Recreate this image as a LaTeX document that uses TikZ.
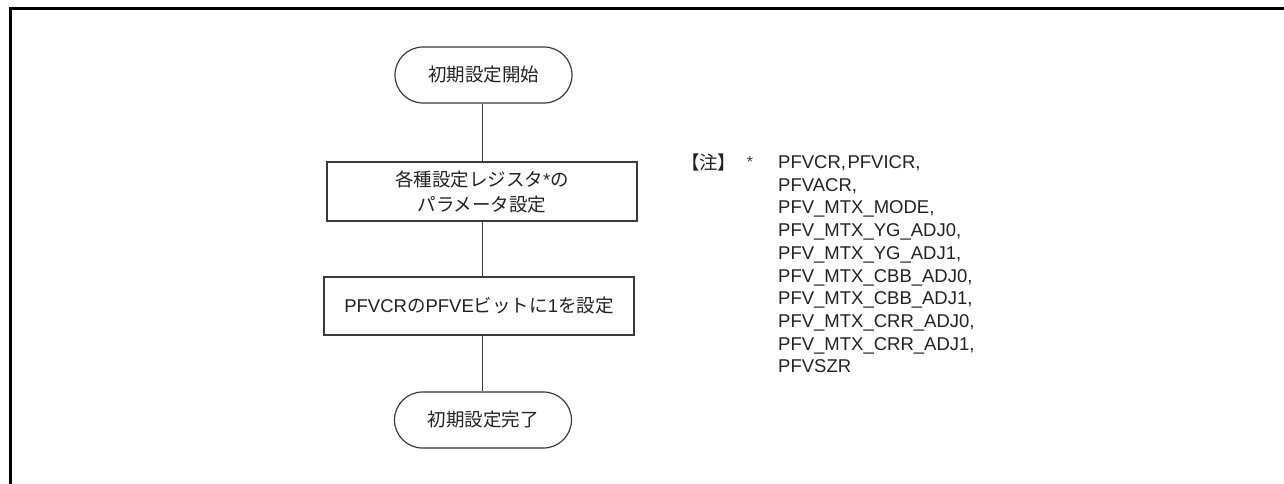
\documentclass[tikz,border=0pt]{standalone}
\usepackage{fontspec}
\setmainfont{Liberation Sans}
\newfontfamily\jp{Noto Sans CJK JP}
\newfontfamily\jpp[RawFeature=+palt]{Noto Sans CJK JP}
\definecolor{ln}{HTML}{3A3A3A}
\definecolor{tx}{HTML}{222222}
\begin{document}
\begin{tikzpicture}[x=1pt,y=-1pt,
  every node/.style={text=tx,font=\fontsize{18.5}{25}\selectfont},
  term/.style={draw=ln,line width=1.2pt,rounded corners=28pt,minimum width=177pt,minimum height=56pt,inner sep=0pt},
  procbox/.style={draw=ln,line width=1.2pt,minimum width=310pt,minimum height=59pt,inner sep=0pt,align=center},
  conn/.style={draw=ln,line width=1pt},
  frameline/.style={line width=3pt,black}]
\useasboundingbox (0,0) rectangle (1284,484);
% frame
\coordinate (fb) at (10.5,484);
\coordinate (fc) at (10.5,8.5);
\coordinate (fr) at (1284,8.5);
\draw[frameline] (fb) -- (fc) -- (fr);
% flowchart
\node[term] (start) at (483.5,75) {\jp 初期設定開始};
\node[procbox] (p1) at (482,191.5) {{\jp 各種設定レジスタ}*{\jp の}\\{\jp パラメータ設定}};
\node[procbox,minimum height=58pt] (p2) at (479,306) {PFVCR{\jp の}PFVE{\jp ビットに}1{\jp を設定}};
\node[term] (end) at (483,420) {\jp 初期設定完了};
\draw[conn] (p1.north |- start.south) -- (p1.north);
\draw[conn] (p1.south) -- (p1.south |- p2.north);
\draw[conn] (p1.south |- p2.south) -- (p1.south |- end.north);
% notes
\node[font=\jpp\fontsize{18.5}{22.7}\selectfont] (chu) at (709,162) {【注】};
\node[font=\fontsize{16}{18}\selectfont,text=ln] (ast) at (750,162) {*};
\node[anchor=north west,inner sep=0pt,align=left,font=\fontsize{18.5}{22.7}\selectfont] (list) at (778,155.4)
  {PFVCR,\kern1.5pt PFVICR,\\PFVACR,\\PFV\_MTX\_MODE,\\PFV\_MTX\_YG\_ADJ0,\\PFV\_MTX\_YG\_ADJ1,\\PFV\_MTX\_CBB\_ADJ0,\\PFV\_MTX\_CBB\_ADJ1,\\PFV\_MTX\_CRR\_ADJ0,\\PFV\_MTX\_CRR\_ADJ1,\\PFVSZR};
\end{tikzpicture}
\end{document}
